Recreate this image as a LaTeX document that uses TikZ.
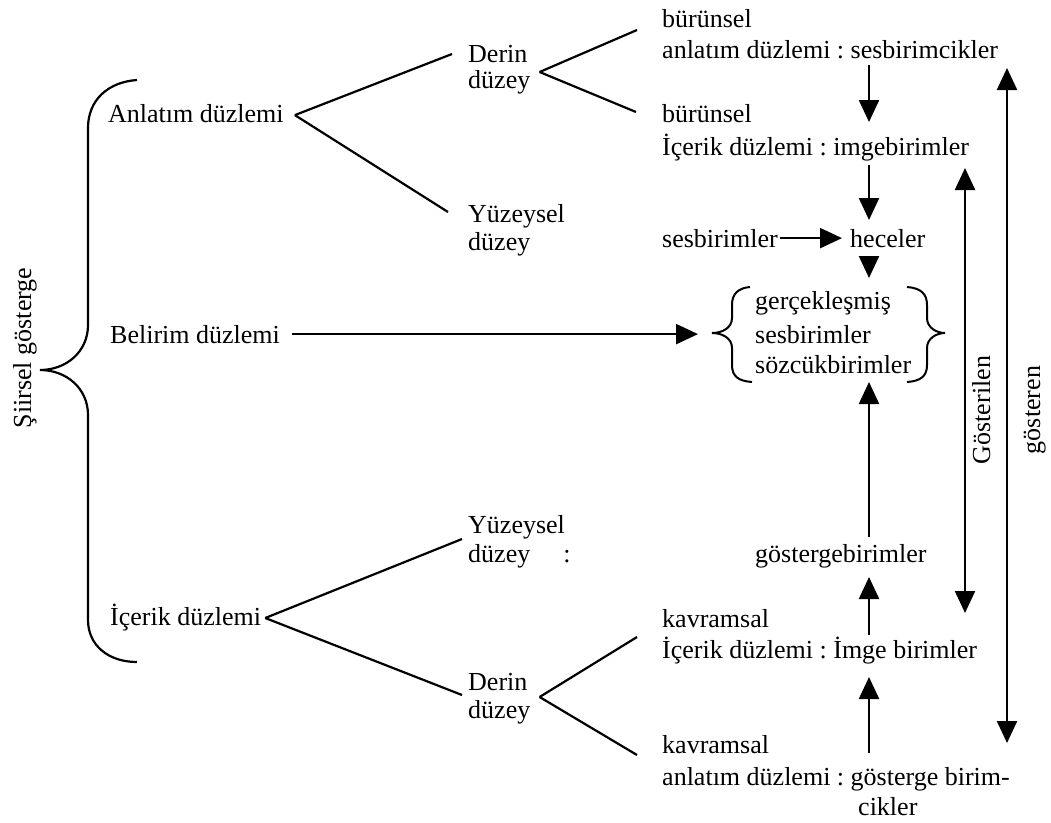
\documentclass[tikz,border=0pt]{standalone}
\usepackage{fontspec}
\setmainfont{Liberation Serif}
\usetikzlibrary{arrows.meta,calc}
\frenchspacing

\tikzset{
  lbl/.style={anchor=base west, inner sep=0pt, font=\fontsize{26}{31}\selectfont},
  vlbl/.style={anchor=base, inner sep=0pt, rotate=90, font=\fontsize{26}{31}\selectfont},
  tree/.style={line width=2.2pt},
  arr/.style={-{Triangle[width=20pt,length=22pt]}, line width=2.3pt},
  dbl/.style={{Triangle[width=20pt,length=22pt]}-{Triangle[width=20pt,length=22pt]}, line width=2.3pt}
}

\begin{document}
\begin{tikzpicture}[x=1pt,y=-1pt]

\useasboundingbox (0,0) rectangle (1051,822);

\begin{scope}

% left column
\node[vlbl] (sig) at (31,348) {Şiirsel gösterge};
\node[lbl] (anl) at (108,122) {Anlatım düzlemi};
\node[lbl] (bel) at (110,343) {Belirim düzlemi};
\node[lbl] (ice) at (110,625) {İçerik düzlemi};

% middle column
\node[lbl] (derA1) at (468,62) {Derin};
\node[lbl] (derA2) at (468,88) {düzey};
\node[lbl] (yuzA1) at (468,222) {Yüzeysel};
\node[lbl] (yuzA2) at (468,250) {düzey};
\node[lbl] (yuzB1) at (468,533) {Yüzeysel};
\node[lbl] (yuzB2) at (468,562) {düzey\hspace*{33pt}:};
\node[lbl] (derB1) at (468,690) {Derin};
\node[lbl] (derB2) at (468,718) {düzey};

% right column
\node[lbl] (burA1) at (662,27) {bürünsel};
\node[lbl] (anlA) at (662,58) {anlatım düzlemi : sesbirimcikler};
\node[lbl] (burB1) at (662,122) {bürünsel};
\node[lbl] (iceB) at (662,155) {İçerik düzlemi : imgebirimler};
\node[lbl] (sesb) at (662,247) {sesbirimler};
\node[lbl] (hec) at (850,247) {heceler};
\node[lbl] (grp1) at (755,309) {gerçekleşmiş};
\node[lbl] (grp2) at (755,343) {sesbirimler};
\node[lbl] (grp3) at (755,373) {sözcükbirimler};
\node[lbl] (gost) at (755,562) {göstergebirimler};
\node[lbl] (kavA1) at (662,627) {kavramsal};
\node[lbl] (iceC) at (662,658) {İçerik düzlemi : İmge birimler};
\node[lbl] (kavB1) at (662,753) {kavramsal};
\node[lbl] (anlB) at (662,785) {anlatım düzlemi : gösterge birim-};
\node[lbl] (cik) at (858,815) {cikler};
\node[vlbl] (gstl) at (990,410) {Gösterilen};
\node[vlbl] (gstr) at (1040,410) {gösteren};

\coordinate (col) at (869,0);
\coordinate (colL) at (965,0);
\coordinate (colR) at (1007,0);

% big brace
\draw[tree] (137,80) .. controls (108,82) and (88,100) .. (88,128) -- (88,325)
  .. controls (88,352) and (66,370) .. (40,370)
  .. controls (66,370) and (88,388) .. (88,415) -- (88,620)
  .. controls (88,645) and (108,662) .. (137,662);

% small braces
\draw[line width=2pt] (750,287) .. controls (738,288) and (732,294) .. (732,305) -- (732,318)
  .. controls (732,328) and (722,333) .. (712,333)
  .. controls (722,333) and (732,338) .. (732,348) -- (732,365)
  .. controls (732,376) and (738,381) .. (752,382);
\draw[line width=2pt] (907,287) .. controls (921,288) and (927,294) .. (927,305) -- (927,318)
  .. controls (927,328) and (937,333) .. (945,333)
  .. controls (937,333) and (927,338) .. (927,348) -- (927,365)
  .. controls (927,376) and (921,381) .. (907,382);

% branches
\coordinate (anlT) at ($(anl.east)+(11,2)$);
\coordinate (derAT) at ($(derA1.base east)+(12,10)$);
\coordinate (iceT) at ($(ice.base east)+(4,-7)$);
\coordinate (derBT) at ($(derB1.base east)+(12,7)$);

\draw[tree] (anlT) -- ($(derA1.base west)+(-16,-8)$);
\draw[tree] (anlT) -- ($(yuzA1.base west)+(-20,-10)$);
\draw[tree] (derAT) -- ($(burA1.base west)+(-25,3)$);
\draw[tree] (derAT) -- ($(burB1.base west)+(-26,-10)$);
\draw[tree] (iceT) -- ($(yuzB1.base west)+(-6,6)$);
\draw[tree] (iceT) -- ($(derB1.base west)+(-6,5)$);
\draw[tree] (derBT) -- ($(kavA1.base west)+(-25,10)$);
\draw[tree] (derBT) -- ($(kavB1.base west)+(-25,2)$);

% arrows
\draw[arr] ($(anlA.base -| col)+(0,7)$) -- (burB1.base -| col);
\draw[arr] ($(iceB.base -| col)+(0,10)$) -- ($(hec.base -| col)+(0,-27)$);
\draw[arr] ($(hec.base -| col)+(0,9)$) -- ($(hec.base -| col)+(0,31)$);
\draw[arr, shorten <=2pt, shorten >=8pt] (sesb.east) -- (sesb.east -| hec.west);
\draw[arr, shorten <=12pt] (bel.east) -- ($(bel.east -| grp2.west)+(-57,0)$);
\draw[arr] ($(gost.base -| col)+(0,-25)$) -- ($(grp3.base -| col)+(0,9)$);
\draw[arr] ($(kavA1.base -| col)+(0,8)$) -- ($(gost.base -| col)+(0,15)$);
\draw[arr] ($(kavB1.base -| col)+(0,0)$) -- ($(iceC.base -| col)+(0,19)$);
\draw[dbl] ($(iceB.base -| colL)+(0,13)$) -- ($(kavA1.base -| colL)+(0,-14)$);
\draw[dbl] ($(anlA.base -| colR)+(0,10)$) -- ($(kavB1.base -| colR)+(0,-10)$);

\end{scope}

\end{tikzpicture}
\end{document}
